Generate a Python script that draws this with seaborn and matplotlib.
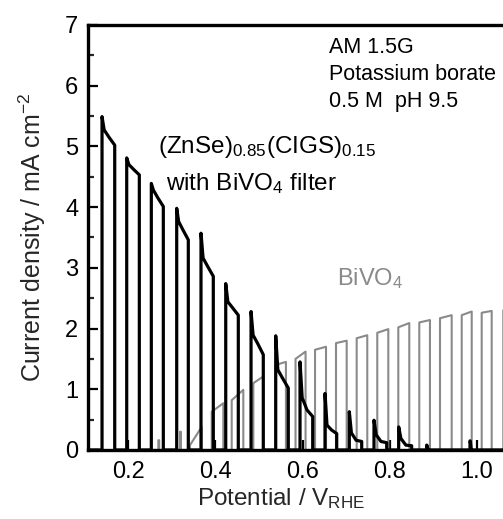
import numpy as np
import pandas as pd
import matplotlib
matplotlib.use("Agg")
import matplotlib.pyplot as plt
import seaborn as sns

# ---------------- data ----------------
# (ZnSe)0.85(CIGS)0.15 with BiVO4 filter : chopped-light pulses
cigs_on = [0.1404, 0.1970, 0.2534, 0.3116, 0.3673, 0.4240, 0.4820, 0.5386,
           0.5943, 0.6516, 0.7073, 0.7639, 0.8205, 0.8847, 0.9840]
cigs_off = [0.1695, 0.2259, 0.2809, 0.3382, 0.3955, 0.4528, 0.5101, 0.5674,
            0.6234, 0.6784, 0.7357, 0.7930, 0.8503, 0.8870, 0.9865]
cigs_peak = [5.49, 4.81, 4.39, 3.98, 3.57, 2.74, 2.28, 1.88, 1.45, 0.93, 0.63, 0.49, 0.38, 0.08, 0.15]
cigs_kink = [5.27, 4.70, 4.28, 3.76, 3.16, 2.44, 1.89, 1.32, 0.86, 0.41, 0.28, 0.25, 0.19, 0.08, 0.15]
cigs_mid = [5.15, 4.62, 4.15, 3.62, 3.02, 2.34, 1.75, 1.18, 0.66, 0.33, 0.16, 0.14, 0.08, 0.06, 0.10]
cigs_end = [5.02, 4.53, 4.01, 3.46, 2.86, 2.22, 1.57, 1.02, 0.55, 0.27, 0.14, 0.12, 0.07, 0.02, 0.02]

# BiVO4 : chopped-light pulses
bvo_on = [0.2695, 0.3192, 0.3421, 0.3919, 0.4377, 0.4872, 0.5380, 0.5840,
          0.6287, 0.6768, 0.7242, 0.7714, 0.8196, 0.8677, 0.9152, 0.9650, 1.0108, 1.0603]
bvo_off = [0.2715, 0.3212, 0.3689, 0.4185, 0.4643, 0.5101, 0.5620, 0.6070,
           0.6539, 0.7013, 0.7485, 0.7967, 0.8448, 0.8922, 0.9420, 0.9879, 1.0337, 1.0850]
bvo_start = [0.16, 0.30, 0.08, 0.63, 0.82, 1.10, 1.40, 1.50, 1.65, 1.76, 1.84, 1.93, 2.02, 2.10, 2.17, 2.22, 2.26, 2.30]
bvo_end = [0.16, 0.30, 0.38, 0.77, 0.99, 1.21, 1.45, 1.62, 1.70, 1.80, 1.89, 1.99, 2.09, 2.14, 2.22, 2.28, 2.29, 2.33]

x_ticks = [0.2, 0.4, 0.6, 0.8, 1.0]
y_ticks = [0, 1, 2, 3, 4, 5, 6, 7]
conditions = ["AM 1.5G", "Potassium borate", "0.5 M  pH 9.5"]


def cigs_trace():
    xs, ys = [0.105], [0.0]
    for on, off, p, k, m, e in zip(cigs_on, cigs_off, cigs_peak, cigs_kink, cigs_mid, cigs_end):
        d = off - on
        xs += [on, on, on + 0.17 * d, on + 0.55 * d, off, off]
        ys += [0.0, p, k, m, e, 0.0]
    xs.append(1.12)
    ys.append(0.0)
    return pd.DataFrame({"V": xs, "J": ys, "order": np.arange(len(xs))})


def bvo_trace():
    xs, ys = [0.24], [0.0]
    for on, off, s, e in zip(bvo_on, bvo_off, bvo_start, bvo_end):
        xs += [on, on, off, off]
        ys += [0.0, s, e, 0.0]
    xs.append(1.12)
    ys.append(0.0)
    return pd.DataFrame({"V": xs, "J": ys, "order": np.arange(len(xs))})


sns.set_theme(style="ticks")
plt.rcParams["font.family"] = ["Liberation Sans", "DejaVu Sans"]
plt.rcParams["mathtext.default"] = "regular"

fig = plt.figure(figsize=(5.03, 5.19), dpi=100)
ax = fig.add_axes([0.175, 0.133, 0.86, 0.819])

gray = "#8a8a8a"
sns.lineplot(data=bvo_trace(), x="V", y="J", sort=False, estimator=None,
             color=gray, linewidth=1.5, ax=ax)
sns.lineplot(data=cigs_trace(), x="V", y="J", sort=False, estimator=None,
             color="black", linewidth=2.3, ax=ax)

ax.set_xlim(0.1083, 1.10)
ax.set_ylim(0, 7)
ax.set_xticks(x_ticks)
ax.set_xticklabels([f"{v:.1f}" for v in x_ticks])
ax.set_yticks(y_ticks)
ax.set_yticklabels([str(v) for v in y_ticks])
ax.set_yticks(np.arange(0.5, 7, 1.0), minor=True)
ax.tick_params(axis="both", which="major", direction="in", length=7, width=1.6,
               labelsize=17, colors="black")
ax.tick_params(axis="x", which="major", pad=8)
ax.tick_params(axis="y", which="major", pad=7)
ax.tick_params(axis="y", which="minor", direction="in", length=4, width=1.6)
for s in ax.spines.values():
    s.set_linewidth(2.4)
    s.set_color("black")

ax.set_xlabel(r"Potential / V$_{RHE}$", fontsize=17.5)
ax.xaxis.set_label_coords(0.446, -0.085)
ax.set_ylabel(r"Current density / mA cm$^{-2}$", fontsize=18, labelpad=12)

ax.text(0.2688, 4.89, r"(ZnSe)$_{0.85}$(CIGS)$_{0.15}$", fontsize=17.5, color="black")
ax.text(0.2871, 4.28, r"with BiVO$_{4}$ filter", fontsize=17.5, color="black")
ax.text(0.679, 2.72, r"BiVO$_{4}$", fontsize=17, color=gray)
for txt, yy in zip(conditions, [6.545, 6.096, 5.656]):
    ax.text(0.6607, yy, txt, fontsize=15.5, color="black")

fig.savefig("out.png", dpi=100)
